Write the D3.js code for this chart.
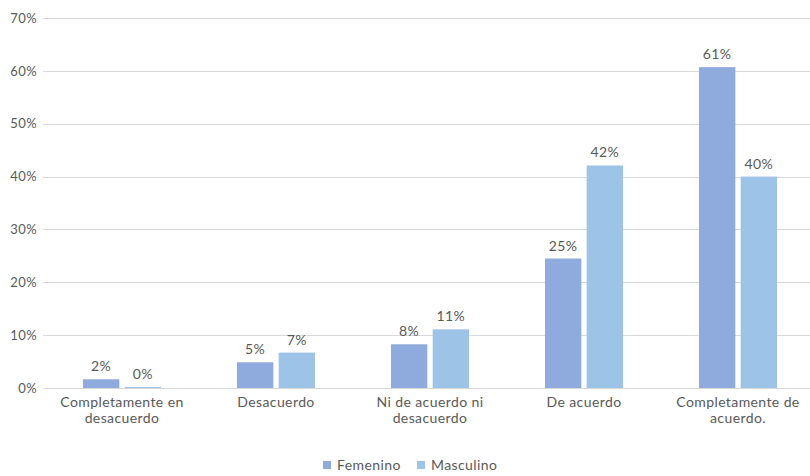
<!DOCTYPE html>
<html><head><meta charset="utf-8">
<script src="https://cdn.jsdelivr.net/npm/d3@7"></script>
<style>body{margin:0;background:#fff}svg{display:block}text{font-family:Lato,"Open Sans",sans-serif;fill:#595959;letter-spacing:0.4px}</style>
</head><body><svg id="c" width="810" height="476"></svg>
<script>
const categories = [["Completamente en","desacuerdo"],["Desacuerdo"],["Ni de acuerdo ni","desacuerdo"],["De acuerdo"],["Completamente de","acuerdo."]];
const seriesNames = ["Femenino","Masculino"];
const femenino = [0.0165, 0.0486, 0.0827, 0.245, 0.607];
const masculino = [0.002, 0.067, 0.111, 0.421, 0.400];
const labelsF = ["2%","5%","8%","25%","61%"];
const labelsM = ["0%","7%","11%","42%","40%"];
const yTicks = [0,0.1,0.2,0.3,0.4,0.5,0.6,0.7];
const colors = ["#8FAADC","#9DC3E6"];

(function(){
const svg = d3.select("#c");
const pLeft = 45, pRight = 815, pTop = 18, pBottom = 388;
const x = d3.scaleBand().domain(d3.range(categories.length)).range([pLeft, pRight]).paddingInner(0).paddingOuter(0);
const y = d3.scaleLinear().domain([0,0.7]).range([pBottom, pTop]);
const inner = d3.scaleBand().domain([0,1]).range([38, x.bandwidth()-38]).paddingInner(10/78);

svg.append("g").selectAll("line").data(yTicks).join("line")
  .attr("x1", 43).attr("x2", 810)
  .attr("y1", d=>Math.round(y(d))+0.5).attr("y2", d=>Math.round(y(d))+0.5)
  .attr("stroke", "#d9d9d9").attr("stroke-width", 1);

const yAxis = d3.axisLeft(y).tickValues(yTicks).tickFormat(d3.format(".0%")).tickSize(0).tickPadding(6);
const ga = svg.append("g").attr("transform", `translate(${43},0)`).call(yAxis);
ga.select(".domain").remove();
ga.selectAll("text").style("font-size","13px").style("fill","#595959").style("font-family","Lato,'Open Sans',sans-serif");

const series = [femenino, masculino];
const labels = [labelsF, labelsM];
series.forEach((vals, s) => {
  const g = svg.append("g");
  g.selectAll("rect").data(vals).join("rect")
    .attr("x", (d,i)=>x(i)+inner(s))
    .attr("width", inner.bandwidth())
    .attr("y", d=>y(d))
    .attr("height", d=>y(0)-y(d))
    .attr("fill", colors[s]);
  g.selectAll("text").data(vals).join("text")
    .attr("x", (d,i)=>x(i)+inner(s)+inner.bandwidth()/2)
    .attr("y", d=>y(d)-8)
    .attr("text-anchor","middle")
    .style("font-size","14px")
    .text((d,i)=>labels[s][i]);
});

const cg = svg.append("g");
categories.forEach((lines, i) => {
  const t = cg.append("text").attr("text-anchor","middle").style("font-size","14px")
    .attr("x", x(i)+x.bandwidth()/2).attr("y", 407);
  lines.forEach((ln, k) => t.append("tspan").attr("x", x(i)+x.bandwidth()/2).attr("dy", k===0?0:16).text(ln));
});

const lg = svg.append("g");
const legX = [323, 417];
seriesNames.forEach((n, s) => {
  lg.append("rect").attr("x", legX[s]).attr("y", 461).attr("width", 8).attr("height", 8).attr("fill", colors[s]);
  lg.append("text").attr("x", legX[s]+14).attr("y", 470).style("font-size","14px").text(n);
});
})();
</script></body></html>
